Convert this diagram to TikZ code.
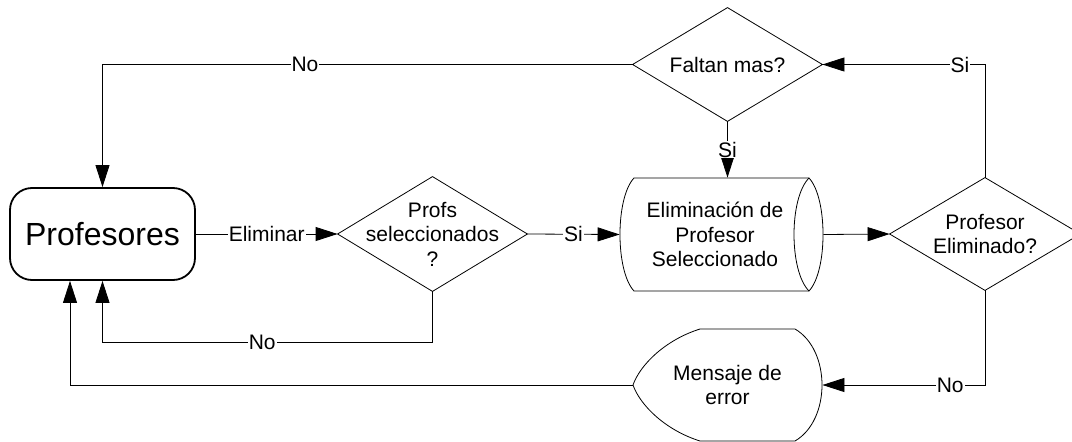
\documentclass[tikz,border=0pt]{standalone}
\usepackage{fontspec}
\setmainfont{Liberation Sans}
\usetikzlibrary{arrows.meta}
\begin{document}
\begin{tikzpicture}[x=1pt,y=-1pt,line width=0.8pt,
  every node/.style={font=\fontsize{21}{24.5}\selectfont,inner sep=0pt,align=center},
  arr/.style={-{Triangle[length=22pt,width=14pt]}},
  lbl/.style={fill=white,inner sep=1pt},
  area/.style={rectangle,minimum width=#1},
  high/.style={minimum height=#1}]
\useasboundingbox (0,0) rectangle (1072,442);

% start / end state
\node[draw,line width=1.8pt,rounded corners=22pt,area=185pt,high=92pt,
      font=\fontsize{32}{38}\selectfont] (prof) at (102.5,234) {Profesores};

% decision: anything selected?
\node[area=189pt,high=114pt] (ps) at (432.5,234) {Profs\\seleccionados\\?};
\draw (ps.north) -- (ps.east) -- (ps.south) -- (ps.west) -- cycle;

% stored data: the delete operation
\node[area=203pt,high=113pt,
      label={[xshift=-6.5pt]center:Eliminación de\\Profesor\\Seleccionado}] (cyl) at (721.5,234.5) {};
\draw (634,178) -- (809,178) .. controls (827.7,198) and (827.7,271) .. (809,291)
      -- (634,291) .. controls (615.3,271) and (615.3,198) .. (634,178) -- cycle;
\draw (809,178) .. controls (789,198) and (789,271) .. (809,291);

% decision: deleted?
\node[area=190pt,high=112pt] (pe) at (985,234) {Profesor\\Eliminado?};
\draw (pe.north) -- (pe.east) -- (pe.south) -- (pe.west) -- cycle;

% decision: more left?
\node[area=189pt,high=113pt] (fm) at (727.5,64.5) {Faltan mas?};
\draw (fm.north) -- (fm.east) -- (fm.south) -- (fm.west) -- cycle;

% display: error message
\node[area=189pt,high=112pt] (me) at (727.5,385) {Mensaje de\\error};
\draw (700,329) -- (795,329) .. controls (831,350) and (831,420) .. (795,441)
      -- (700,441) .. controls (665,430) and (640,405) .. (633,385)
      .. controls (640,365) and (665,340) .. (700,329) -- cycle;

% connectors
\draw[arr] (fm.west) -| node[lbl,pos=0.309]{No} (prof.north);
\draw[arr] (fm.south) -- node[lbl]{Si} (fm.south |- cyl.north);
\draw[arr] (pe.north) |- node[lbl,pos=0.577]{Si} (fm.east);
\draw[arr] (prof.east) -- node[lbl]{Eliminar} (ps.west);
\draw[arr] (ps.east) -- node[lbl]{Si} (cyl.west);
\draw[arr] (cyl.east) -- (pe.west);
\draw[arr] (ps.south) -- ++(0,51) -| node[lbl,pos=0.258]{No} (prof.south);
\draw[arr] (pe.south) |- node[lbl,pos=0.607]{No} (me.east);
\draw[arr] (me.west) -| ([xshift=-32.5pt]prof.south);
\end{tikzpicture}
\end{document}
